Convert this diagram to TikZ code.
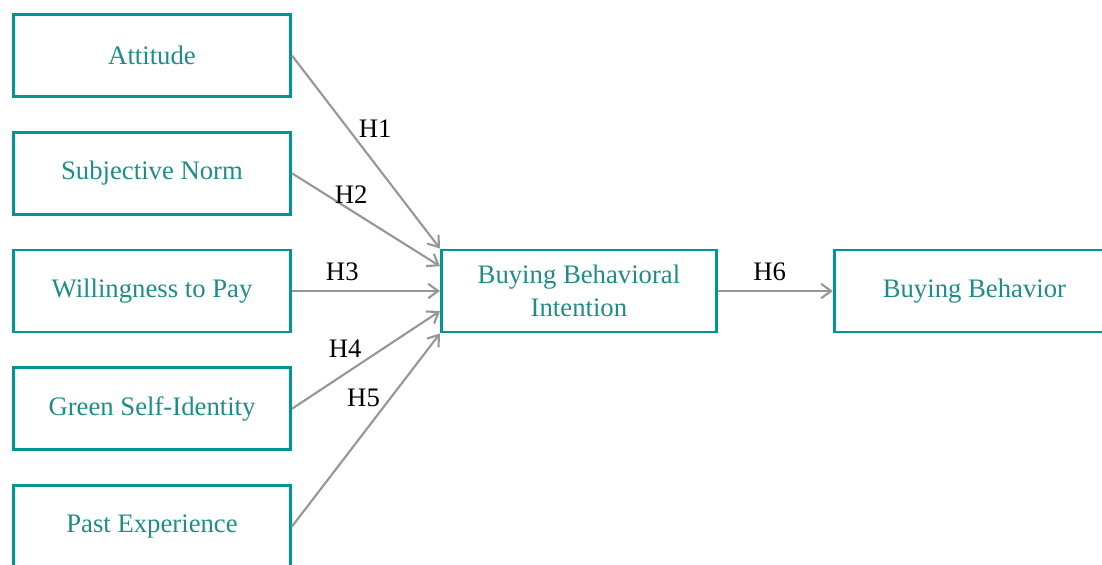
\documentclass[tikz,border=0pt]{standalone}
\usepackage{fontspec}
\setmainfont{Liberation Serif}
\usetikzlibrary{positioning, calc, arrows.meta}
\definecolor{tealbox}{RGB}{0,150,145}
\definecolor{tealtext}{RGB}{30,140,135}
\definecolor{arrowgray}{RGB}{150,150,150}
\tikzstyle{factor} = [rectangle, minimum width=6.925cm, minimum height=2.05cm, align=center, draw=tealbox, line width=2.1pt, text=tealtext, font=\fontsize{19}{23}\selectfont]
\tikzstyle{arrow} = [line width=1.5pt, draw=arrowgray, -{Straight Barb[length=2.5mm,width=3.6mm]}]
\tikzstyle{hyp} = [text=black, font=\fontsize{19}{23}\selectfont]

\begin{document}
\begin{tikzpicture}
	\clip (0,0) rectangle (27.55,-14.1);

	% Nodes
	\node (att) [factor] at (3.8,-1.3875) {Attitude};
	\node (sn) [factor, below=0.82cm of att] {Subjective Norm};
	\node (wtp) [factor, below=0.82cm of sn] {Willingness to Pay};
	\node (gsi) [factor, below=0.82cm of wtp] {Green Self-Identity};
	\node (pe) [factor, below=0.82cm of gsi] {Past Experience};
	\node (bbi) [factor, minimum width=6.875cm, right=3.7cm of wtp] {Buying Behavioral\\Intention};
	\node (bb) [factor, minimum width=7cm, right=2.875cm of bbi] {Buying Behavior};

	% Arrows
	\draw [arrow] (att.east) -- node[hyp, pos=0.38, right=0.12cm] {H1} (bbi.north west);
	\draw [arrow] (sn.east) -- node[hyp, pos=0.4, above=0.03cm] {H2} ($(bbi.west)+(0,0.62)$);
	\draw [arrow] (wtp.east) -- node[hyp, pos=0.34, above=0.12cm] {H3} (bbi.west);
	\draw [arrow] (gsi.east) -- node[hyp, pos=0.36, above=0.26cm] {H4} ($(bbi.west)+(0,-0.5)$);
	\draw [arrow] (pe.east) -- node[hyp, pos=0.665, left=0.12cm] {H5} (bbi.south west);
	\draw [arrow] (bbi.east) -- node[hyp, pos=0.45, above=0.12cm] {H6} (bb.west);

\end{tikzpicture}
\end{document}
